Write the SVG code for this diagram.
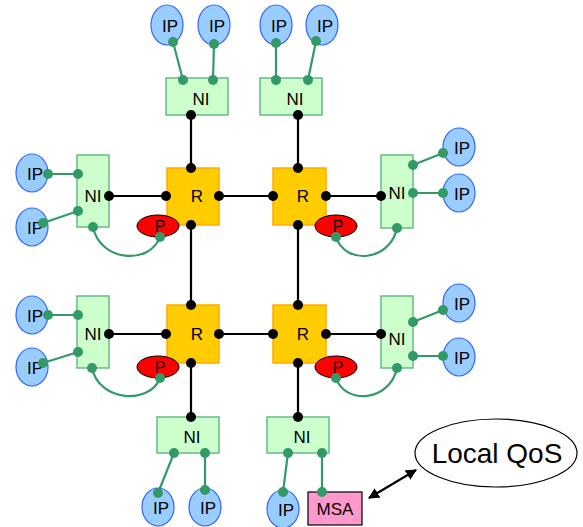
<svg xmlns="http://www.w3.org/2000/svg" width="583" height="527" viewBox="0 0 583 527">
<style>
.ip{fill:#99ccff;stroke:#3366ff;stroke-width:1.2}
.ni{fill:#ccffcc;stroke:#66bb88;stroke-width:1.5}
.r{fill:#ffcc00;stroke:#ffaa00;stroke-width:1.5}
.p{fill:#ff0000;stroke:#000;stroke-width:1}
.g{stroke:#339966;stroke-width:2.2;fill:none}
.k{stroke:#000;stroke-width:2.2;fill:none}
.gd{fill:#339966}
.kd{fill:#000}
text{font-family:"Liberation Sans",Arial,sans-serif;font-size:17px;text-anchor:middle;fill:#000}
</style>
<defs>
<marker id="ah" viewBox="0 0 10 10" refX="9" refY="5" markerWidth="5" markerHeight="5" orient="auto-start-reverse"><path d="M0,0 L10,5 L0,10 z" fill="#000"/></marker>
</defs>
<g id="connectors">
<path class="k" d="M191,115V168 M191,225V305 M191,363V417 M298,115V168 M298,225V305 M298,363V417"/>
<path class="k" d="M109,196H166 M219,196H273 M326,196H381 M109,334H166 M219,334H273 M326,334H381"/>
<path class="g" d="M173,42L183,80 M214,44L213,80 M276,43L276,80 M316,41L308,80"/>
<path class="g" d="M48,174H78 M43,223L78,211 M93,227C100,262 150,265 160,237"/>
<path class="g" d="M48,315H78 M43,363L78,352 M92,368C99,402 150,405 160,378"/>
<path class="g" d="M443,153L413,165 M443,193H413 M397,228C390,262 345,265 336,237"/>
<path class="g" d="M443,310L413,322 M443,356H413 M397,368C390,402 345,405 336,378"/>
<path class="g" d="M174,453L158,493 M205,453V490 M288,453L283,492 M322,453V492"/>
<path class="k" d="M369,498L416,470" stroke-width="2" marker-start="url(#ah)" marker-end="url(#ah)"/>
</g>
<g id="ip-t1"><ellipse class="ip" cx="167" cy="25" rx="16" ry="20"/><text x="170" y="32">IP</text></g>
<g id="ip-t2"><ellipse class="ip" cx="214" cy="25" rx="16" ry="20"/><text x="217" y="32">IP</text></g>
<g id="ip-t3"><ellipse class="ip" cx="276" cy="25" rx="16" ry="20"/><text x="279" y="32">IP</text></g>
<g id="ip-t4"><ellipse class="ip" cx="322" cy="25" rx="16" ry="20"/><text x="325" y="32">IP</text></g>
<g id="ip-l1"><ellipse class="ip" cx="32" cy="173" rx="16" ry="19"/><text x="35" y="180">IP</text></g>
<g id="ip-l2"><ellipse class="ip" cx="32" cy="227" rx="16" ry="19"/><text x="35" y="234">IP</text></g>
<g id="ip-l3"><ellipse class="ip" cx="32" cy="315" rx="16" ry="19"/><text x="35" y="322">IP</text></g>
<g id="ip-l4"><ellipse class="ip" cx="32" cy="367" rx="16" ry="19"/><text x="35" y="374">IP</text></g>
<g id="ip-r1"><ellipse class="ip" cx="459" cy="147" rx="16" ry="19"/><text x="462" y="154">IP</text></g>
<g id="ip-r2"><ellipse class="ip" cx="459" cy="193" rx="16" ry="19"/><text x="462" y="200">IP</text></g>
<g id="ip-r3"><ellipse class="ip" cx="459" cy="303" rx="16" ry="19"/><text x="462" y="310">IP</text></g>
<g id="ip-r4"><ellipse class="ip" cx="459" cy="357" rx="16" ry="19"/><text x="462" y="364">IP</text></g>
<g id="ip-b1"><ellipse class="ip" cx="158" cy="507" rx="16" ry="19"/><text x="161" y="514">IP</text></g>
<g id="ip-b2"><ellipse class="ip" cx="205" cy="507" rx="16" ry="19"/><text x="208" y="514">IP</text></g>
<g id="ip-b3"><ellipse class="ip" cx="283" cy="509" rx="16" ry="19"/><text x="286" y="516">IP</text></g>
<g id="msa"><rect x="308" y="492" width="54" height="33" fill="#ff99cc" stroke="#000" stroke-width="1.2"/><text x="335" y="515">MSA</text></g>
<g id="localqos"><ellipse cx="496" cy="453" rx="81" ry="34" fill="#fff" stroke="#000" stroke-width="1.2"/><text x="497" y="463" style="font-size:28px">Local QoS</text></g>
<g id="ni-t1"><rect class="ni" x="166" y="78" width="62" height="37"/><text x="201" y="105">NI</text></g>
<g id="ni-t2"><rect class="ni" x="260" y="78" width="62" height="37"/><text x="295" y="105">NI</text></g>
<g id="ni-l1"><rect class="ni" x="77" y="155" width="32" height="72"/><text x="93" y="202">NI</text></g>
<g id="ni-l2"><rect class="ni" x="77" y="296" width="32" height="72"/><text x="93" y="340">NI</text></g>
<g id="ni-r1"><rect class="ni" x="381" y="155" width="32" height="73"/><text x="397" y="199">NI</text></g>
<g id="ni-r2"><rect class="ni" x="381" y="296" width="32" height="72"/><text x="397" y="345">NI</text></g>
<g id="ni-b1"><rect class="ni" x="157" y="417" width="62" height="36"/><text x="192" y="443">NI</text></g>
<g id="ni-b2"><rect class="ni" x="267" y="417" width="62" height="36"/><text x="302" y="443">NI</text></g>
<g id="r1"><rect class="r" x="167" y="168" width="52" height="57"/><text x="197" y="202">R</text></g>
<g id="r2"><rect class="r" x="273" y="168" width="53" height="57"/><text x="303" y="202">R</text></g>
<g id="r3"><rect class="r" x="167" y="305" width="52" height="58"/><text x="197" y="340">R</text></g>
<g id="r4"><rect class="r" x="273" y="305" width="53" height="58"/><text x="303" y="340">R</text></g>
<g id="p1"><ellipse class="p" cx="158" cy="226" rx="21" ry="11"/><text x="160" y="232" style="font-size:16px">P</text></g>
<g id="p2"><ellipse class="p" cx="336" cy="226" rx="21" ry="11"/><text x="338" y="232" style="font-size:16px">P</text></g>
<g id="p3"><ellipse class="p" cx="158" cy="367" rx="21" ry="11"/><text x="160" y="373" style="font-size:16px">P</text></g>
<g id="p4"><ellipse class="p" cx="336" cy="367" rx="21" ry="11"/><text x="338" y="373" style="font-size:16px">P</text></g>
<g id="dots">
<g class="kd">
<circle cx="191" cy="115" r="5"/><circle cx="298" cy="115" r="5"/>
<circle cx="191" cy="168" r="5"/><circle cx="166" cy="196" r="5"/><circle cx="219" cy="196" r="5"/><circle cx="191" cy="225" r="5"/>
<circle cx="298" cy="168" r="5"/><circle cx="273" cy="196" r="5"/><circle cx="326" cy="196" r="5"/><circle cx="298" cy="225" r="5"/>
<circle cx="191" cy="305" r="5"/><circle cx="166" cy="334" r="5"/><circle cx="219" cy="334" r="5"/><circle cx="191" cy="363" r="5"/>
<circle cx="298" cy="305" r="5"/><circle cx="273" cy="334" r="5"/><circle cx="326" cy="334" r="5"/><circle cx="298" cy="363" r="5"/>
<circle cx="109" cy="196" r="5"/><circle cx="109" cy="334" r="5"/><circle cx="381" cy="196" r="5"/><circle cx="381" cy="334" r="5"/>
<circle cx="191" cy="417" r="5"/><circle cx="298" cy="417" r="5"/>
</g>
<g class="gd">
<circle cx="173" cy="42" r="5"/><circle cx="214" cy="44" r="5"/><circle cx="276" cy="43" r="5"/><circle cx="316" cy="41" r="5"/>
<circle cx="183" cy="80" r="5"/><circle cx="213" cy="80" r="5"/><circle cx="276" cy="80" r="5"/><circle cx="308" cy="80" r="5"/>
<circle cx="48" cy="174" r="5"/><circle cx="43" cy="223" r="5"/><circle cx="78" cy="174" r="5"/><circle cx="78" cy="211" r="5"/><circle cx="93" cy="227" r="5"/><circle cx="160" cy="237" r="5"/>
<circle cx="48" cy="315" r="5"/><circle cx="43" cy="363" r="5"/><circle cx="78" cy="315" r="5"/><circle cx="78" cy="352" r="5"/><circle cx="92" cy="368" r="5"/><circle cx="160" cy="378" r="5"/>
<circle cx="443" cy="153" r="5"/><circle cx="443" cy="193" r="5"/><circle cx="413" cy="165" r="5"/><circle cx="413" cy="193" r="5"/><circle cx="397" cy="228" r="5"/><circle cx="336" cy="237" r="5"/>
<circle cx="443" cy="310" r="5"/><circle cx="443" cy="356" r="5"/><circle cx="413" cy="322" r="5"/><circle cx="413" cy="356" r="5"/><circle cx="397" cy="368" r="5"/><circle cx="336" cy="378" r="5"/>
<circle cx="174" cy="453" r="5"/><circle cx="205" cy="453" r="5"/><circle cx="288" cy="453" r="5"/><circle cx="322" cy="453" r="5"/>
<circle cx="158" cy="493" r="5"/><circle cx="205" cy="490" r="5"/><circle cx="283" cy="492" r="5"/><circle cx="322" cy="492" r="5"/>
</g>
</g>
</svg>
